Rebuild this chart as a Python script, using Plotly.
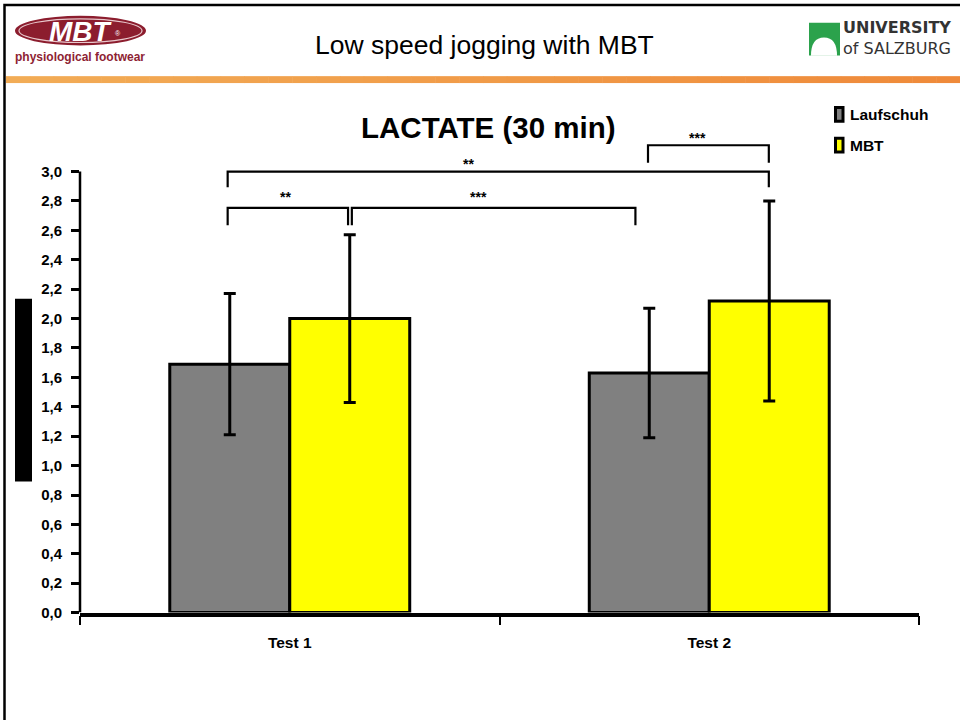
import plotly.graph_objects as go

# ---------------- data ----------------
categories = ["Test 1", "Test 2"]
series_names = ["Laufschuh", "MBT"]
laufschuh_mean = [1.69, 1.63]
laufschuh_sd = [0.48, 0.44]
mbt_mean = [2.00, 2.12]
mbt_sd = [0.57, 0.68]
y_ticks = [0.0, 0.2, 0.4, 0.6, 0.8, 1.0, 1.2, 1.4, 1.6, 1.8, 2.0, 2.2, 2.4, 2.6, 2.8, 3.0]

# significance brackets
sig_x0 = [-0.148, 0.148, -0.148, 0.854]
sig_x1 = [0.139, 0.824, 1.142, 1.142]
sig_y = [2.753, 2.753, 3.0, 3.179]
sig_foot = [2.634, 2.634, 2.894, 3.06]
sig_label = ["**", "***", "**", "***"]
sig_lx = [-0.01, 0.45, 0.427, 0.972]
sig_ly = [2.83, 2.83, 3.05, 3.225]

colors = ["#808080", "#FFFF00"]

W, H = 960, 720
def px(x):
    return x / W
def py(y):
    return 1 - y / H

SANS = "Liberation Sans, Arial, sans-serif"

x_left, x_right = 80, 919
y_zero_px = 619.5
unit_px = 148.67
y_max = 3.3
y_top_px = y_zero_px - y_max * unit_px

fig = go.Figure()
for name, mean, sd, col in [
    (series_names[0], laufschuh_mean, laufschuh_sd, colors[0]),
    (series_names[1], mbt_mean, mbt_sd, colors[1]),
]:
    fig.add_trace(go.Bar(
        x=[0, 1], y=mean, name=name,
        marker=dict(color=col, line=dict(color="black", width=3)),
        error_y=dict(type="data", array=sd, visible=True, color="black",
                     thickness=3, width=6),
        showlegend=False,
    ))

shapes = []
annotations = []

def note(x, y, text, font, xanchor="center", yanchor="middle", xref="paper", yref="paper", align="center"):
    annotations.append(dict(x=x, y=y, xref=xref, yref=yref, text=text, showarrow=False,
                            xanchor=xanchor, yanchor=yanchor, font=font, align=align))

# outer slide frame
shapes.append(dict(type="rect", xref="paper", yref="paper",
                   x0=px(4.5), x1=px(1100), y0=py(5), y1=py(900),
                   line=dict(color="black", width=2.5), fillcolor="rgba(0,0,0,0)"))

# orange header bar (gradient)
n_seg = 40
c0 = (242, 172, 86)
c1 = (239, 138, 58)
for i in range(n_seg):
    t = i / (n_seg - 1)
    c = tuple(int(round(c0[k] + (c1[k] - c0[k]) * t)) for k in range(3))
    xa = 6 + (960 - 6) * i / n_seg
    xb = 6 + (960 - 6) * (i + 1) / n_seg + 0.5
    shapes.append(dict(type="rect", xref="paper", yref="paper",
                       x0=px(xa), x1=px(xb), y0=py(77), y1=py(84),
                       line=dict(width=0), fillcolor="rgb(%d,%d,%d)" % c))

# MBT logo
shapes.append(dict(type="circle", xref="paper", yref="paper",
                   x0=px(15), x1=px(146), y0=py(16), y1=py(46),
                   fillcolor="#8C1D2E", line=dict(width=0)))
shapes.append(dict(type="circle", xref="paper", yref="paper",
                   x0=px(19), x1=px(142), y0=py(19), y1=py(43),
                   fillcolor="rgba(0,0,0,0)", line=dict(color="#E8C8CC", width=1.2)))
note(px(81), py(31.5), "MBT",
     dict(family=SANS, size=28, color="white", weight="bold", style="italic"))
note(px(118), py(34), "®", dict(family=SANS, size=7, color="white"))
note(px(80), py(58), "physiological footwear",
     dict(family=SANS, size=12, color="#8E2333", weight="bold"))

# header title
note(px(484), py(45), "Low speed jogging with MBT",
     dict(family=SANS, size=26.5, color="black"))

# University logo
shapes.append(dict(type="rect", xref="paper", yref="paper",
                   x0=px(809), x1=px(840), y0=py(23), y1=py(56),
                   fillcolor="#2BA24C", line=dict(width=0)))
dx0, dx1, dtop, dbot = px(811), px(837), py(38), py(56.5)
shapes.append(dict(type="path", xref="paper", yref="paper",
                   path="M %f,%f Q %f,%f %f,%f Q %f,%f %f,%f Z" % (dx0, dbot, dx0, dtop, (dx0 + dx1) / 2, dtop,
                                                                dx1, dtop, dx1, dbot),
                   fillcolor="white", line=dict(width=0)))
note(px(841), py(38.5), "<b>UNIVERSITY</b><br>of SALZBURG",
     dict(family="DejaVu Sans", size=16, color="#333333"), xanchor="left", align="left")

# redacted axis title block
shapes.append(dict(type="rect", xref="paper", yref="paper",
                   x0=px(15), x1=px(32), y0=py(302), y1=py(487),
                   fillcolor="black", line=dict(width=0)))

# y-axis line (0 to 3.0)
shapes.append(dict(type="line", xref="paper", yref="y",
                   x0=px(x_left), x1=px(x_left), y0=0, y1=y_ticks[-1],
                   line=dict(color="black", width=2.5)))

# chart title
note(px(488), py(129), "LACTATE (30 min)",
     dict(family=SANS, size=29.5, color="black", weight="bold"))

# custom legend
leg_y = [115.7, 146.7]
for name, col, ly in zip(series_names, colors, leg_y):
    shapes.append(dict(type="rect", xref="paper", yref="paper",
                       x0=px(835.5), x1=px(843), y0=py(ly - 7), y1=py(ly + 7),
                       fillcolor=col, line=dict(color="black", width=3)))
    note(px(848), py(ly), name,
         dict(family=SANS, size=15.5, color="black", weight="bold"), xanchor="left")

# significance brackets
for x0, x1, yb, yf, lab, lx, ly in zip(sig_x0, sig_x1, sig_y, sig_foot, sig_label, sig_lx, sig_ly):
    shapes.append(dict(type="path", xref="x", yref="y",
                       path="M %f,%f L %f,%f L %f,%f L %f,%f" % (x0, yf, x0, yb, x1, yb, x1, yf),
                       line=dict(color="black", width=2.2)))
    note(lx, ly, lab, dict(family=SANS, size=14, color="black", weight="bold"),
         xref="x", yref="y")

fig.update_layout(
    width=W, height=H, autosize=False,
    margin=dict(l=0, r=0, t=0, b=0),
    paper_bgcolor="white", plot_bgcolor="white",
    separators=",.",
    barmode="group", bargap=0.428, bargroupgap=0,
    showlegend=False,
    shapes=shapes, annotations=annotations,
    xaxis=dict(
        domain=[px(x_left), px(x_right)],
        range=[-0.5, 1.5],
        tickvals=[0, 1], ticktext=categories,
        ticks="", ticklen=0,
        showline=True, linecolor="black", linewidth=3.5,
        showgrid=False, zeroline=False,
        tickfont=dict(family=SANS, size=15.5, color="black", weight="bold"),
        ticklabelstandoff=13,
        minor=dict(tickvals=[-0.5, 0.5, 1.5], ticks="outside", ticklen=9,
                   tickwidth=2, tickcolor="black"),
    ),
    yaxis=dict(
        domain=[(H - y_zero_px) / H, (H - y_top_px) / H],
        range=[0, y_max],
        tickvals=y_ticks, tickformat=".1f",
        ticks="outside", ticklen=8, tickwidth=2.5, tickcolor="black",
        showline=False, showgrid=False, zeroline=False,
        tickfont=dict(family=SANS, size=15, color="black", weight="bold"),
        ticklabelstandoff=6,
    ),
)

fig.write_html("out.html",
               config={"responsive": False, "displayModeBar": False},
               post_script="document.body.style.margin='0';document.body.style.overflow='hidden';")
